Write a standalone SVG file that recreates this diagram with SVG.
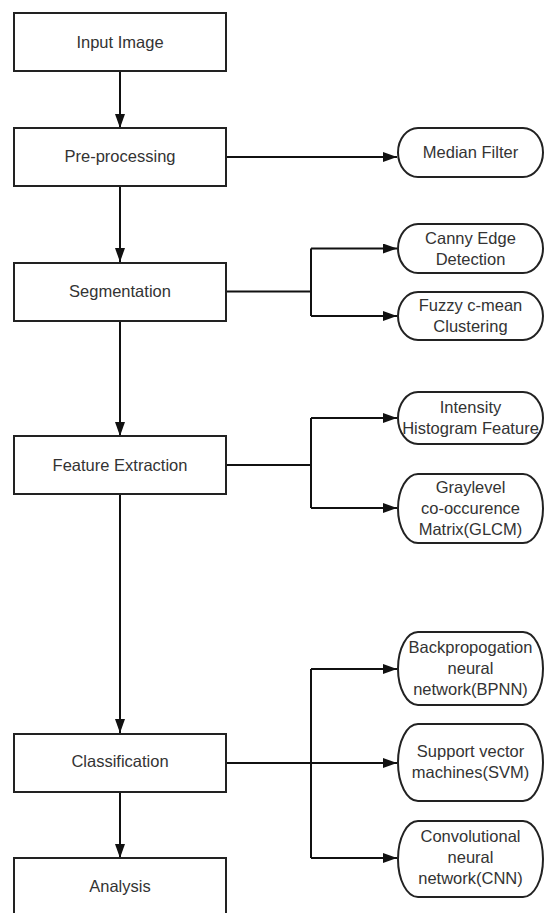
<svg xmlns="http://www.w3.org/2000/svg" width="544" height="913" viewBox="0 0 544 913">
<defs>
<marker id="ah" markerWidth="14" markerHeight="10" refX="14" refY="5" orient="auto" markerUnits="userSpaceOnUse">
<path d="M0,0 L14,5 L0,10 Z" fill="#111"/>
</marker>
<style>
.box{fill:#fff;stroke:#222;stroke-width:2}
.pill{fill:#fff;stroke:#222;stroke-width:2}
.t{font-family:"Liberation Sans",Arial,sans-serif;font-size:16.5px;fill:#333;text-anchor:middle}
.c{fill:none;stroke:#111;stroke-width:2}
</style>
</defs>
<rect width="544" height="913" fill="#fff"/>
<g id="connectors">
<path class="c" d="M120,71 V128" marker-end="url(#ah)"/>
<path class="c" d="M120,186 V262" marker-end="url(#ah)"/>
<path class="c" d="M120,321 V436" marker-end="url(#ah)"/>
<path class="c" d="M120,494 V733" marker-end="url(#ah)"/>
<path class="c" d="M120,792 V858" marker-end="url(#ah)"/>
<path class="c" d="M226,157 H397" marker-end="url(#ah)"/>
<path class="c" d="M226,291.5 H311"/>
<path class="c" d="M311,248.5 V316"/>
<path class="c" d="M311,248.5 H397" marker-end="url(#ah)"/>
<path class="c" d="M311,316 H397" marker-end="url(#ah)"/>
<path class="c" d="M226,465 H311"/>
<path class="c" d="M311,418 V508"/>
<path class="c" d="M311,418 H397" marker-end="url(#ah)"/>
<path class="c" d="M311,508 H397" marker-end="url(#ah)"/>
<path class="c" d="M226,763 H397" marker-end="url(#ah)"/>
<path class="c" d="M311,669 V858"/>
<path class="c" d="M311,669 H397" marker-end="url(#ah)"/>
<path class="c" d="M311,858 H397" marker-end="url(#ah)"/>
</g>
<g id="input-image"><rect class="box" x="14" y="13" width="212" height="58"/><text class="t" x="120" y="48">Input Image</text></g>
<g id="pre-processing"><rect class="box" x="14" y="128" width="212" height="58"/><text class="t" x="120" y="162">Pre-processing</text></g>
<g id="segmentation"><rect class="box" x="14" y="263" width="212" height="58"/><text class="t" x="120" y="297">Segmentation</text></g>
<g id="feature-extraction"><rect class="box" x="14" y="436" width="212" height="58"/><text class="t" x="120" y="471">Feature Extraction</text></g>
<g id="classification"><rect class="box" x="14" y="734" width="212" height="58"/><text class="t" x="120" y="767">Classification</text></g>
<g id="analysis"><rect class="box" x="14" y="858" width="212" height="70"/><text class="t" x="120" y="892">Analysis</text></g>
<g id="median-filter"><path class="pill" d="M418,128 H523 A20,24.5 0 0 1 523,177 H418 A20,24.5 0 0 1 418,128 Z"/><text class="t" x="470.5" y="158">Median Filter</text></g>
<g id="canny"><path class="pill" d="M418,224 H523 A20,24.5 0 0 1 523,273 H418 A20,24.5 0 0 1 418,224 Z"/><text class="t" x="470.5" y="244">Canny Edge</text><text class="t" x="470.5" y="264.5">Detection</text></g>
<g id="fuzzy"><path class="pill" d="M418,292 H523 A20,24 0 0 1 523,340 H418 A20,24 0 0 1 418,292 Z"/><text class="t" x="470.5" y="311">Fuzzy c-mean</text><text class="t" x="470.5" y="332">Clustering</text></g>
<g id="intensity"><path class="pill" d="M418,392 H523 A20,26 0 0 1 523,444 H418 A20,26 0 0 1 418,392 Z"/><text class="t" x="470.5" y="412.5">Intensity</text><text class="t" x="470.5" y="433.5">Histogram Feature</text></g>
<g id="glcm"><path class="pill" d="M418,474 H523 A20,34.5 0 0 1 523,543 H418 A20,34.5 0 0 1 418,474 Z"/><text class="t" x="470.5" y="492.5">Graylevel</text><text class="t" x="470.5" y="514">co-occurence</text><text class="t" x="470.5" y="535">Matrix(GLCM)</text></g>
<g id="bpnn"><path class="pill" d="M418,632 H523 A20,36.5 0 0 1 523,705 H418 A20,36.5 0 0 1 418,632 Z"/><text class="t" x="470.5" y="652.5">Backpropogation</text><text class="t" x="470.5" y="674">neural</text><text class="t" x="470.5" y="695">network(BPNN)</text></g>
<g id="svm"><path class="pill" d="M418,724 H523 A20,38.5 0 0 1 523,801 H418 A20,38.5 0 0 1 418,724 Z"/><text class="t" x="470.5" y="756.5">Support vector</text><text class="t" x="470.5" y="777.5">machines(SVM)</text></g>
<g id="cnn"><path class="pill" d="M418,821 H523 A20,38 0 0 1 523,897 H418 A20,38 0 0 1 418,821 Z"/><text class="t" x="470.5" y="842">Convolutional</text><text class="t" x="470.5" y="863">neural</text><text class="t" x="470.5" y="884">network(CNN)</text></g>
</svg>
